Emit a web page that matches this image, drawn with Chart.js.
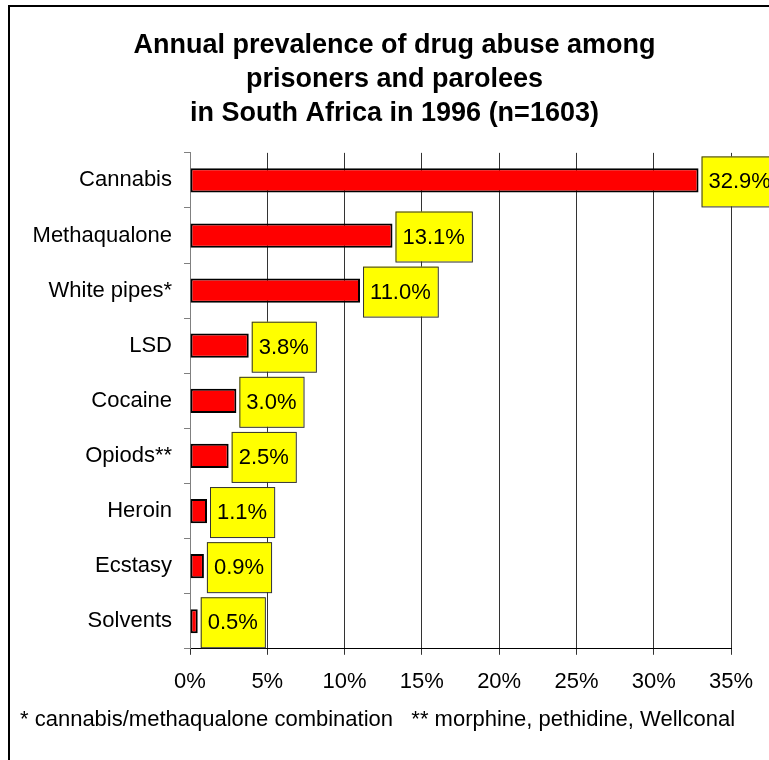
<!DOCTYPE html>
<html>
<head>
<meta charset="utf-8">
<script src="https://cdn.jsdelivr.net/npm/chart.js@4.4.1/dist/chart.umd.min.js"></script>
<style>
  html, body { margin: 0; padding: 0; background: #fff; overflow: hidden; }
  #wrap { position: relative; width: 769px; height: 760px; }
  #frame { position: absolute; left: 8px; top: 5px; width: 900px; height: 900px; border: 2px solid #000; box-sizing: border-box; pointer-events: none; }
  canvas { position: absolute; left: 0; top: 0; }
</style>
</head>
<body>
<div id="wrap">
  <canvas id="chart" width="769" height="760"></canvas>
  <div id="frame"></div>
</div>
<script>
const drugs = ['Cannabis', 'Methaqualone', 'White pipes*', 'LSD', 'Cocaine', 'Opiods**', 'Heroin', 'Ecstasy', 'Solvents'];
const prevalence = [32.9, 13.1, 11.0, 3.8, 3.0, 2.5, 1.1, 0.9, 0.5];
const titleLines = ['Annual prevalence of drug abuse among', 'prisoners and parolees', 'in South Africa in 1996 (n=1603)'];
const footnote = '* cannabis/methaqualone combination   ** morphine, pethidine, Wellconal';

const font = 'Arial, "Liberation Sans", sans-serif';

// yellow value boxes next to each bar
const valueBoxes = {
  id: 'valueBoxes',
  afterDatasetsDraw(chart) {
    const ctx = chart.ctx;
    const meta = chart.getDatasetMeta(0);
    ctx.save();
    ctx.font = '22px ' + font;
    ctx.textBaseline = 'middle';
    meta.data.forEach((bar, i) => {
      const text = prevalence[i].toFixed(1) + '%';
      const w = ctx.measureText(text).width + 14;
      const h = 50;
      const x = bar.x + 3;
      const y = bar.y - h / 2 + 1;
      ctx.fillStyle = '#ffff00';
      ctx.fillRect(x, y, w, h);
      ctx.strokeStyle = '#333';
      ctx.lineWidth = 1;
      ctx.strokeRect(x + 0.5, y + 0.5, w, h);
      ctx.fillStyle = '#000';
      ctx.fillText(text, x + 7, bar.y + 2);
    });
    ctx.restore();
  }
};

new Chart(document.getElementById('chart'), {
  type: 'bar',
  data: {
    labels: drugs,
    datasets: [{
      data: prevalence,
      backgroundColor: '#ff0000',
      borderColor: '#000',
      borderWidth: 2,
      borderSkipped: false,
      categoryPercentage: 1,
      barPercentage: 0.44
    }]
  },
  options: {
    indexAxis: 'y',
    responsive: false,
    animation: false,
    layout: { padding: { left: 20, right: 0, top: 0, bottom: 0 } },
    plugins: {
      legend: { display: false },
      tooltip: { enabled: false },
      title: {
        display: true,
        text: titleLines,
        color: '#000',
        font: { family: font, size: 27, weight: 'bold', lineHeight: 1.27 },
        padding: { top: 28, bottom: 22 }
      },
      subtitle: {
        display: true,
        position: 'bottom',
        align: 'start',
        text: footnote,
        color: '#000',
        font: { family: font, size: 22, lineHeight: 1.1 },
        padding: { top: 4, bottom: 28 }
      }
    },
    scales: {
      x: {
        min: 0,
        max: 35,
        afterFit(scale) { scale.height = 55; scale.paddingRight = 38; },
        ticks: {
          stepSize: 5,
          color: '#000',
          padding: 14,
          font: { family: font, size: 22 },
          callback: v => v + '%'
        },
        grid: { color: '#333', tickLength: 6, lineWidth: 1 },
        border: { color: '#000', width: 1 }
      },
      y: {
        afterFit(scale) { scale.width = 170; },
        ticks: {
          color: '#000',
          padding: 12,
          font: { family: font, size: 22 }
        },
        grid: { drawOnChartArea: false, color: '#808080', tickLength: 6 },
        border: { color: '#808080', width: 1 }
      }
    }
  },
  plugins: [valueBoxes]
});
</script>
</body>
</html>
